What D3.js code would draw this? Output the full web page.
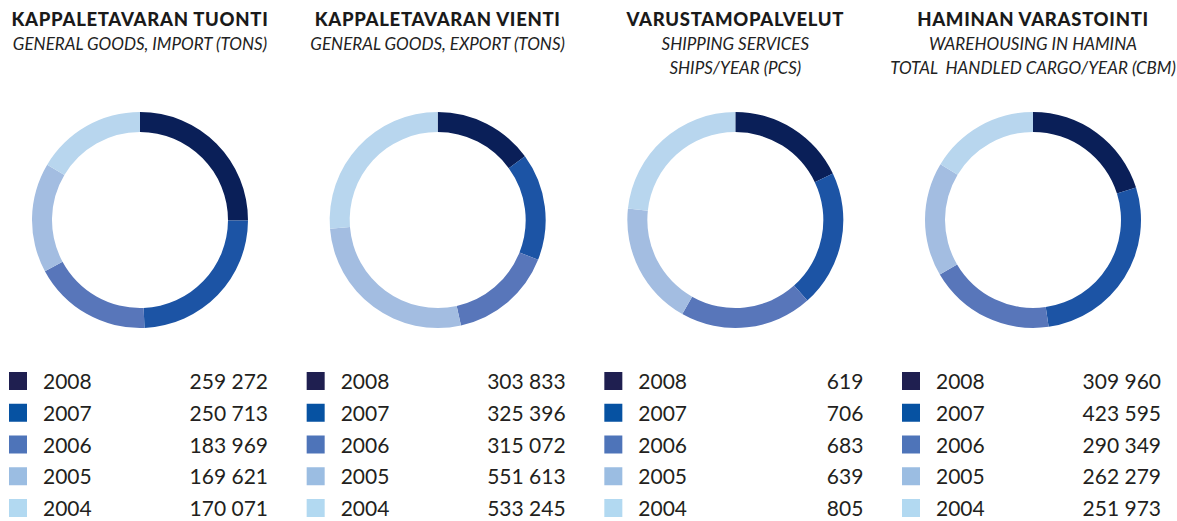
<!DOCTYPE html>
<html>
<head>
<meta charset="utf-8">
<script src="https://cdn.jsdelivr.net/npm/d3@7"></script>
<style>
  body { margin: 0; background: #fff; }
  svg { display: block; }
</style>
</head>
<body>
<main></main>
<script>
const years = ["2008", "2007", "2006", "2005", "2004"]

const importTons = [259272, 250713, 183969, 169621, 170071]
const exportTons = [303833, 325396, 315072, 551613, 533245]
const shipsPerYear = [619, 706, 683, 639, 805]
const warehouseCbm = [309960, 423595, 290349, 262279, 251973]

const titles = [
  "KAPPALETAVARAN TUONTI",
  "KAPPALETAVARAN VIENTI",
  "VARUSTAMOPALVELUT",
  "HAMINAN VARASTOINTI",
]
const subtitles = [
  ["GENERAL GOODS, IMPORT (TONS)"],
  ["GENERAL GOODS, EXPORT (TONS)"],
  ["SHIPPING SERVICES", "SHIPS/YEAR (PCS)"],
  ["WAREHOUSING IN HAMINA", "TOTAL  HANDLED CARGO/YEAR (CBM)"],
]

const series = [importTons, exportTons, shipsPerYear, warehouseCbm]

const w = 1177
const h = 521

const sliceColors = ["#0a1f58", "#1c54a5", "#5876ba", "#a3bde1", "#b8d6ee"]
const boxColors = ["#1f1f50", "#0652a2", "#4e74b9", "#9bbde2", "#b2d9f1"]

const fmt = d3.formatLocale({ decimal: ",", thousands: "\u00a0", grouping: [3], currency: ["", ""] }).format(",d")

const svg = d3.select("main").append("svg").attr("width", w).attr("height", h)

const xScale = d3.scalePoint().domain(d3.range(4)).range([140, 1033])
const colorScale = d3.scaleOrdinal().domain(years).range(sliceColors)
const boxScale = d3.scaleOrdinal().domain(years).range(boxColors)
const rowScale = d3.scalePoint().domain(years).range([381, 508])

const pie = d3.pie().sort(null).value((d) => d.value)
const arc = d3.arc().innerRadius(88).outerRadius(108)

series.forEach((values, k) => {
  const cx = xScale(k)
  const g = svg.append("g").attr("class", "panel")

  g.append("text")
    .attr("x", cx)
    .attr("y", 26)
    .attr("text-anchor", "middle")
    .style("font-family", "Lato")
    .style("font-weight", 900)
    .style("font-size", "18.5px")
    .style("letter-spacing", "0.7px")
    .attr("fill", "#1a1a1a")
    .text(titles[k])

  subtitles[k].forEach((line, j) => {
    g.append("text")
      .attr("x", cx)
      .attr("y", 50 + j * 24)
      .attr("text-anchor", "middle")
      .style("font-family", "Lato")
      .style("font-style", "italic")
      .style("font-size", "17px")
      .style("white-space", "pre")
      .attr("fill", "#222")
      .text(line)
  })

  const data = years.map((y, i) => ({ year: y, value: values[i] }))

  g.append("g")
    .attr("transform", `translate(${cx}, 220)`)
    .selectAll("path")
    .data(pie(data))
    .enter()
    .append("path")
    .attr("d", arc)
    .attr("fill", (d) => colorScale(d.data.year))

  const rows = g
    .selectAll(".row")
    .data(data)
    .enter()
    .append("g")
    .attr("class", "row")
    .attr("transform", (d) => `translate(0, ${rowScale(d.year)})`)

  rows
    .append("rect")
    .attr("x", cx - 131)
    .attr("y", -9)
    .attr("width", 18)
    .attr("height", 18)
    .attr("fill", (d) => boxScale(d.year))

  rows
    .append("text")
    .attr("x", cx - 97)
    .attr("y", 8)
    .style("font-family", "Lato")
    .style("font-size", "21px")
    .attr("fill", "#231f20")
    .text((d) => d.year)

  rows
    .append("text")
    .attr("x", cx + 128)
    .attr("y", 8)
    .attr("text-anchor", "end")
    .style("font-family", "Lato")
    .style("font-size", "21px")
    .attr("fill", "#231f20")
    .text((d) => fmt(d.value))
})
</script>
</body>
</html>
